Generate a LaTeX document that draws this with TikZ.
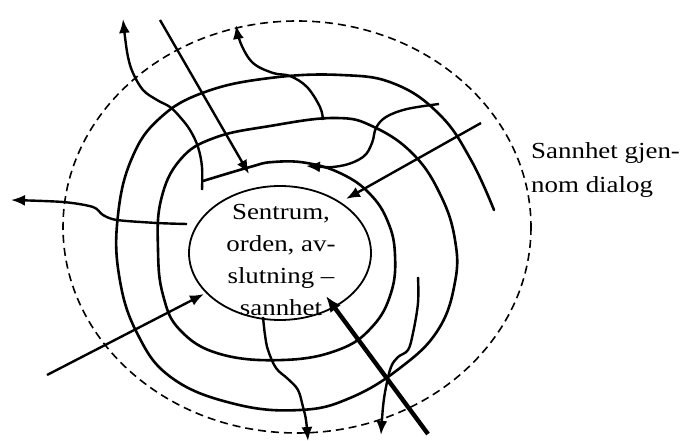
\documentclass[tikz,border=0pt]{standalone}
\usepackage{fontspec}
\newfontfamily\timesfont[FakeStretch=1.17]{Liberation Serif}
\usetikzlibrary{arrows.meta, positioning, shapes.geometric}

\begin{document}
\begin{tikzpicture}[
    x=1pt, y=-1pt,
    ring/.style={
        line width=2.6pt,
        line cap=round
    },
    flow/.style={
        line width=2.4pt,
        -{Latex[length=14pt,width=11pt]}
    },
    heavy/.style={
        line width=4.4pt,
        -{Latex[length=16pt,width=13pt]}
    },
    boundary/.style={
        line width=1.6pt,
        dash pattern=on 8pt off 5pt
    },
    core/.style={
        ellipse,
        draw,
        line width=1.8pt,
        minimum width=182pt,
        minimum height=134pt,
        inner sep=0pt
    },
    corelabel/.style={
        align=center,
        inner sep=0pt,
        font={\timesfont\fontsize{23}{32}\selectfont}
    },
    sidelabel/.style={
        align=left,
        inner sep=0pt,
        anchor=north west,
        font={\timesfont\fontsize{23}{34}\selectfont}
    }
]
\useasboundingbox (0,0) rectangle (683,441);

% Ytre grense
\draw[boundary] (297,227) ellipse [x radius=234, y radius=206];

% Sentrum
\node[core] (centre) at (280,253) {};
\node[corelabel] (centretext) at (281,260) {Sentrum,\\orden, av-\\slutning –\\sannhet};

\node[sidelabel] (dialog) at (531,142) {Sannhet gjen-\\nom dialog};

% Spiral
\coordinate (spiralOut) at (494,210);
\coordinate (spiralIn) at (203,181);
\draw[ring] plot[smooth, tension=0.7] coordinates {
    (spiralOut) (471,160) (440,115) (395,84) (341,75) (270,78)
    (205,92) (160,118) (132,158) (118,215) (119,275) (137,333)
    (172,378) (235,404) (300,410) (350,398) (400,368) (438,330) (455,282)
    (455,240) (441,196) (414,155) (374,127) (335,118) (270,126)
    (214,138) (180,160) (161,200) (158,250) (163,295) (180,330) (220,354)
    (283,360) (338,350) (372,327) (391,293) (395,255) (388,222)
    (370,194) (342,174) (307,163) (273,162) (250,167) (spiralIn)};

% Piler ut
\coordinate (nwStart) at (202,190);
\coordinate (nwTip) at (123,19);
\draw[flow] plot[smooth, tension=0.6] coordinates {
    (nwStart) (202,167) (198,147) (190,130) (180,117) (170,107) (157,100)
    (143,90) (133,73) (128,57) (125,37) (nwTip)};

\coordinate (topStart) at (323,120);
\coordinate (topTip) at (236,25);
\draw[flow] plot[smooth, tension=0.6] coordinates {
    (topStart) (320,107) (307,87) (290,76) (273,73) (253,63) (241,44) (topTip)};

\coordinate (swayLeft) at (306,166);
\coordinate (swayRight) at (439,104);
\draw[flow, {Latex[length=14pt,width=11pt]}-] plot[smooth, tension=0.6] coordinates {
    (swayLeft) (340,166) (363,157) (372,143) (376,128) (386,117) (407,109) (swayRight)};

\coordinate (westStart) at (187,224);
\coordinate (westTip) at (11,200);
\draw[flow] plot[smooth, tension=0.5] coordinates {
    (westStart) (157,223) (117,220) (103,215) (93,207) (63,202) (westTip)};

\coordinate (southStart) at (263,317);
\coordinate (southTip) at (308,441);
\draw[flow] plot[smooth, tension=0.6] coordinates {
    (southStart) (265,335) (268,350) (276,368) (288,379) (298,390) (303,407)
    (306,420) (southTip)};

\coordinate (seStart) at (418,277);
\coordinate (seTip) at (381,435);
\draw[flow] plot[smooth, tension=0.6] coordinates {
    (seStart) (418,303) (413,333) (408,350) (398,357) (391,367) (386,387)
    (383,407) (seTip)};

% Piler inn
\coordinate (nwFar) at (160,20);
\coordinate (nwHit) at (249,174);
\draw[flow] (nwFar) -- (nwHit);

\coordinate (neFar) at (481,123);
\coordinate (neHit) at (346,199);
\draw[flow] (neFar) -- (neHit);

\coordinate (swFar) at (47,375);
\coordinate (swHit) at (204,294);
\draw[flow] (swFar) -- (swHit);

\coordinate (seFar) at (428,434);
\coordinate (seHit) at (326,296);
\draw[heavy] (seFar) -- (seHit);

\end{tikzpicture}
\end{document}
